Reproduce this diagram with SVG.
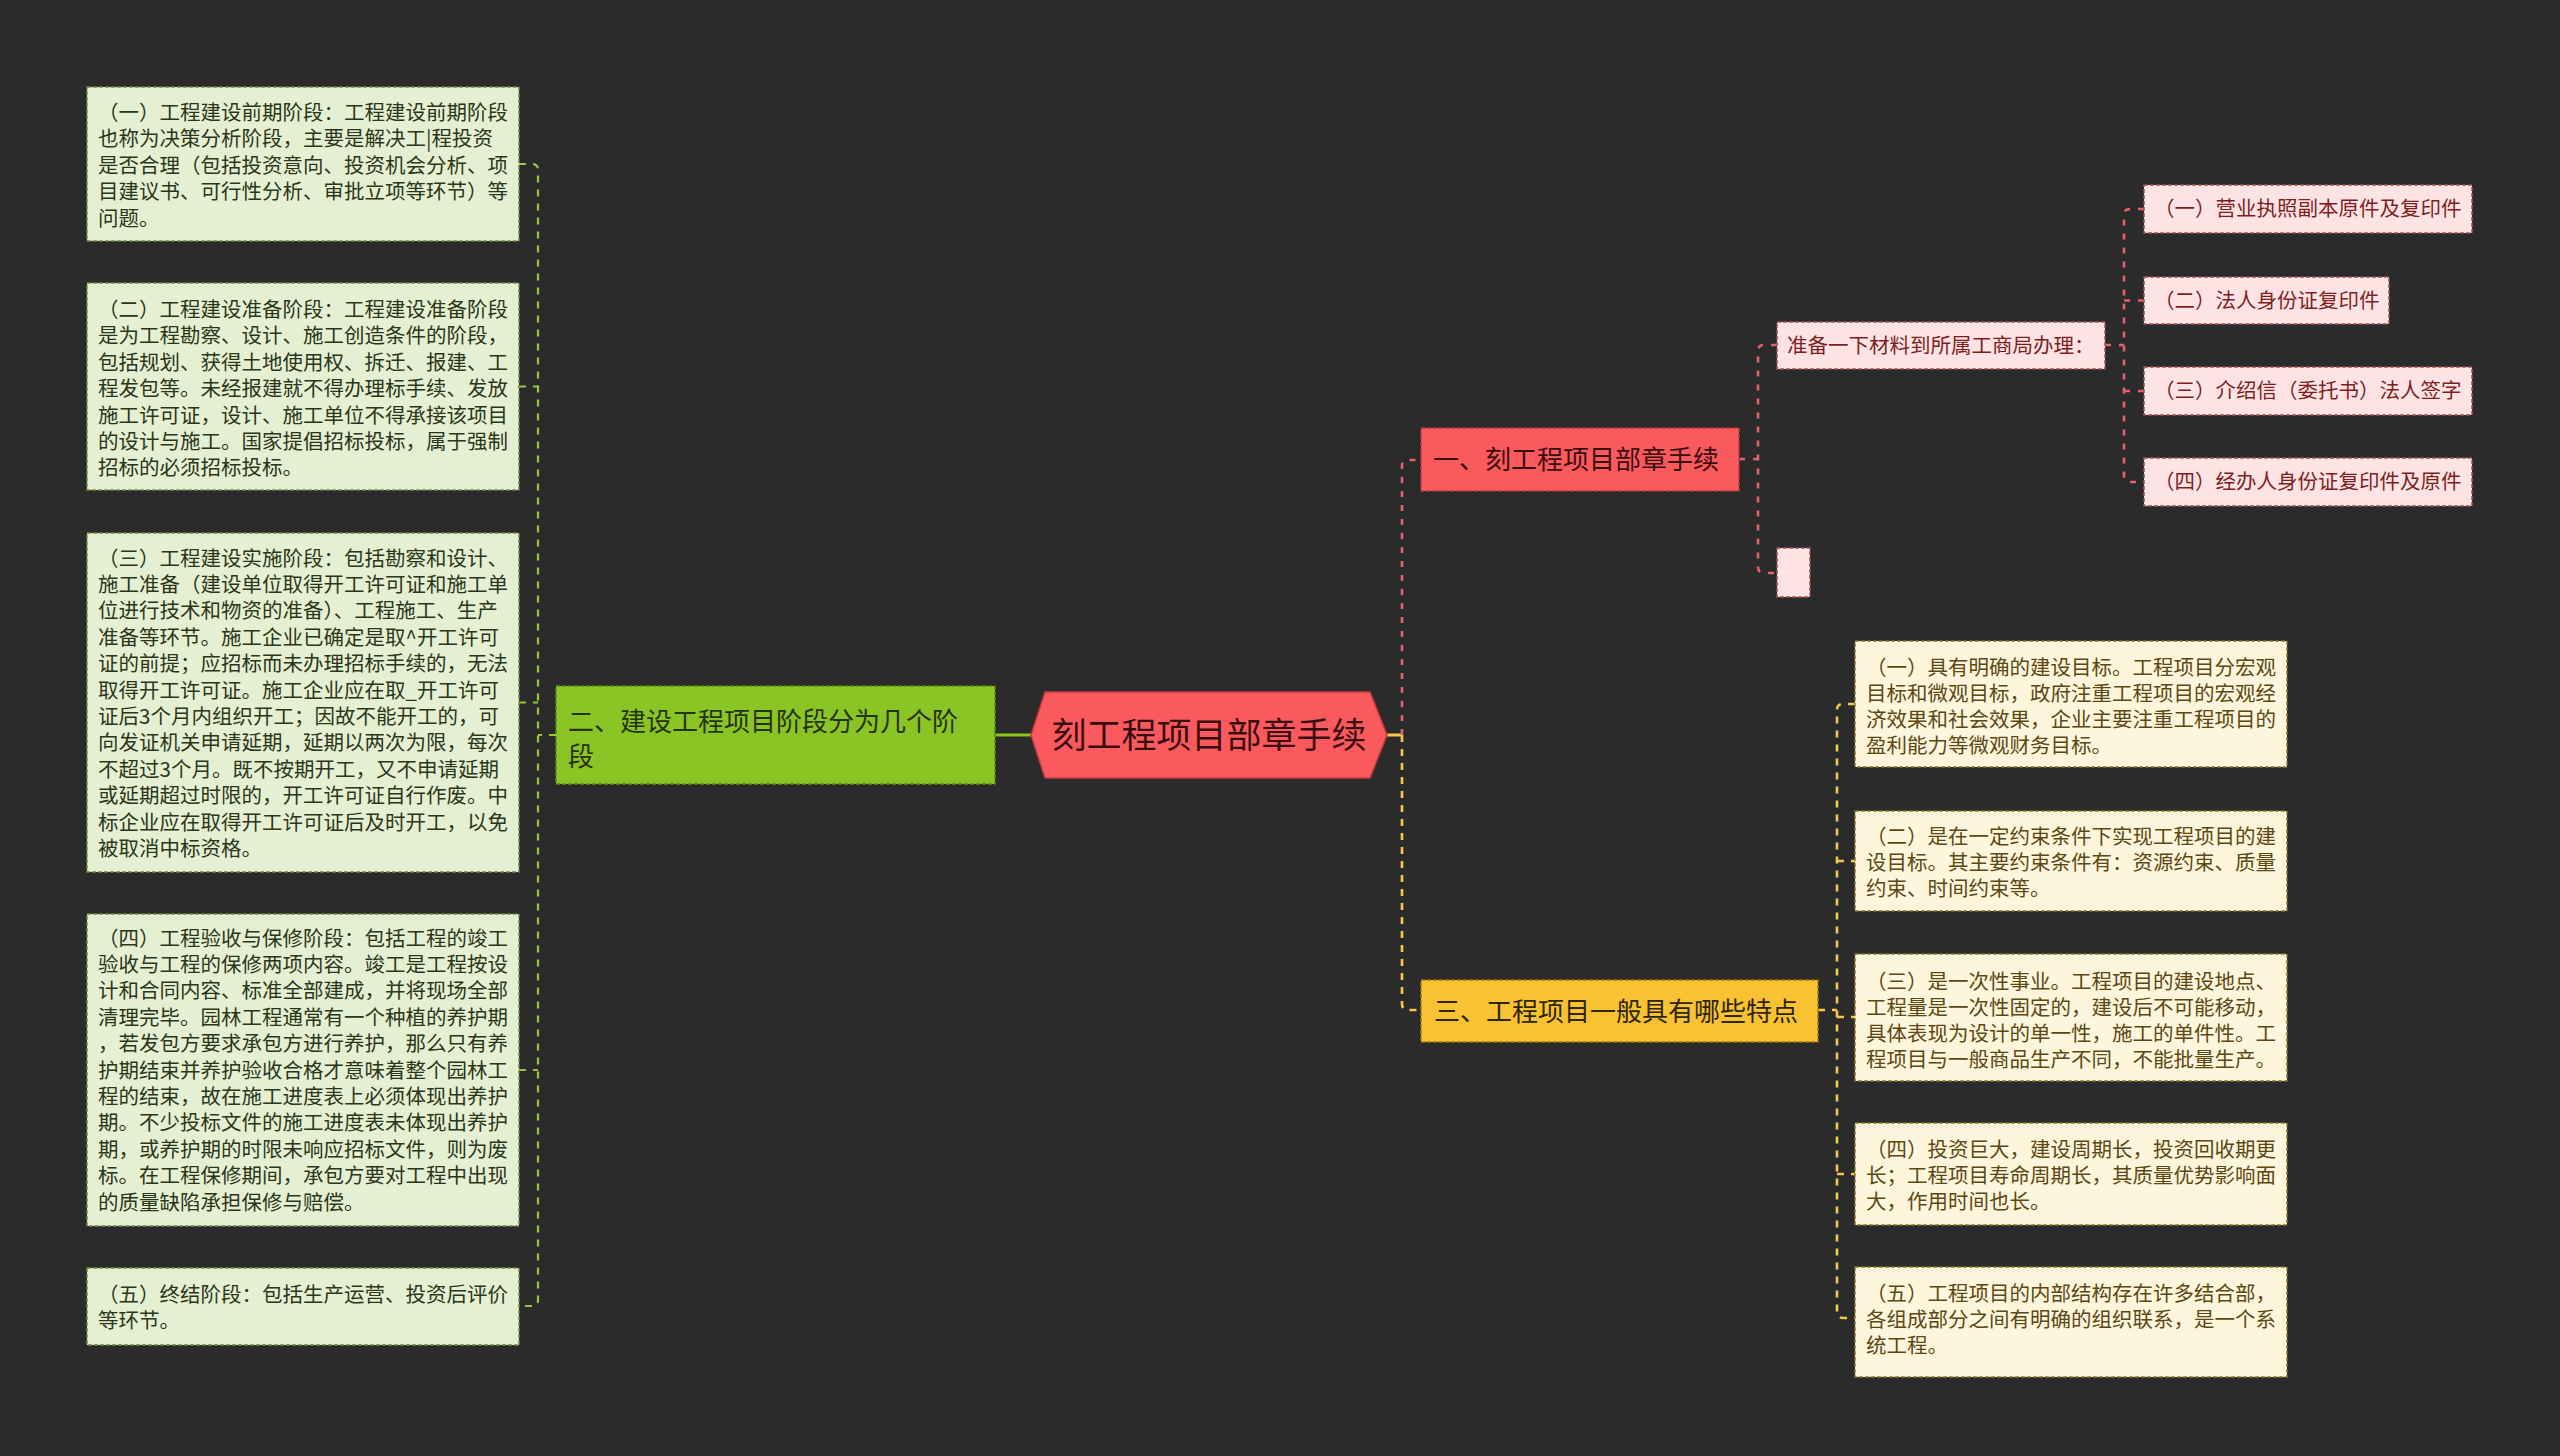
<svg xmlns="http://www.w3.org/2000/svg" width="2560" height="1456" viewBox="0 0 2560 1456">
<style>
text{font-family:"Noto Sans CJK SC","Liberation Sans",sans-serif;}
.t20{font-size:20.5px;}
.t26{font-size:26px;}
.lb rect{fill:#e5f0d2;stroke:#6f8a45;stroke-width:1.5;stroke-dasharray:4 2;}
.lb text{fill:#2b3619;}
.yb rect{fill:#fdf5dc;stroke:#8a7430;stroke-width:1.5;stroke-dasharray:4 2;}
.yb text{fill:#5c4813;}
.rb rect{fill:#fde3e3;stroke:#a05050;stroke-width:1.5;stroke-dasharray:4 2;}
.rb text{fill:#7d1f1f;}
.cg{fill:none;stroke:#98c83a;stroke-width:2.2;stroke-dasharray:7 7;}
.cr{fill:none;stroke:#e0646a;stroke-width:2.6;stroke-dasharray:6 8;}
.cy{fill:none;stroke:#f5c84a;stroke-width:2.6;stroke-dasharray:7 7;}
</style>
<rect x="0" y="0" width="2560" height="1456" fill="#2b2b2b"/>

<g id="connectors">
  <!-- left branch -->
  <path class="cg" d="M556 735 H538"/>
  <path class="cg" d="M519 164 H532 Q538 164 538 170 V1300 Q538 1306 532 1306 H519"/>
  <path class="cg" d="M519 386.5 H538"/>
  <path class="cg" d="M519 702.5 H538"/>
  <path class="cg" d="M519 1070 H538"/>
  <path d="M995 735 H1031" stroke="#8dc31f" stroke-width="3" fill="none"/>
  <!-- right main -->
  <path d="M1387 735 H1402" stroke="#f5c84a" stroke-width="3" fill="none"/>
  <path class="cr" d="M1402 735 V466 Q1402 460 1408 460 H1421"/>
  <path class="cy" d="M1402 735 V1004 Q1402 1010 1408 1010 H1421"/>
  <!-- red sub -->
  <path class="cr" d="M1739 459 H1758"/>
  <path class="cr" d="M1777 345 H1764 Q1758 345 1758 351 V567 Q1758 573 1764 573 H1777"/>
  <path class="cr" d="M2105 345 H2124"/>
  <path class="cr" d="M2144 209 H2130 Q2124 209 2124 215 V476 Q2124 482 2130 482 H2144"/>
  <path class="cr" d="M2124 300.5 H2144"/>
  <path class="cr" d="M2124 391 H2144"/>
  <!-- yellow sub -->
  <path class="cy" d="M1818 1010 H1837"/>
  <path class="cy" d="M1855 704 H1843 Q1837 704 1837 710 V1312 Q1837 1318 1843 1318 H1855"/>
  <path class="cy" d="M1837 861 H1855"/>
  <path class="cy" d="M1837 1017 H1855"/>
  <path class="cy" d="M1837 1174 H1855"/>
</g>

<g id="center">
  <polygon points="1031,735 1045,692 1370,692 1387,735 1370,778 1045,778" fill="#fa5a5d" stroke="#c8383d" stroke-width="1.5"/>
  <text x="1209" y="748" font-size="35" text-anchor="middle" fill="#3a0e10">刻工程项目部章手续</text>
</g>

<g id="branch2">
  <rect x="556" y="686" width="439" height="98" fill="#8ac425" stroke="#5d8a12" stroke-width="1.5" stroke-dasharray="4 2"/>
  <text class="t26" fill="#253310" x="568"><tspan x="568" y="731">二、建设工程项目阶段分为几个阶</tspan><tspan x="568" y="766">段</tspan></text>
</g>

<g id="s1" class="lb">
  <rect x="87" y="87" width="432" height="154"/>
  <text class="t20"><tspan x="98" y="120">（一）工程建设前期阶段：工程建设前期阶段</tspan><tspan x="98" y="146.4">也称为决策分析阶段，主要是解决工|程投资</tspan><tspan x="98" y="172.8">是否合理（包括投资意向、投资机会分析、项</tspan><tspan x="98" y="199.2">目建议书、可行性分析、审批立项等环节）等</tspan><tspan x="98" y="225.6">问题。</tspan></text>
</g>
<g id="s2" class="lb">
  <rect x="87" y="283" width="432" height="207"/>
  <text class="t20"><tspan x="98" y="317">（二）工程建设准备阶段：工程建设准备阶段</tspan><tspan x="98" y="343.4">是为工程勘察、设计、施工创造条件的阶段，</tspan><tspan x="98" y="369.8">包括规划、获得土地使用权、拆迁、报建、工</tspan><tspan x="98" y="396.2">程发包等。未经报建就不得办理标手续、发放</tspan><tspan x="98" y="422.6">施工许可证，设计、施工单位不得承接该项目</tspan><tspan x="98" y="449">的设计与施工。国家提倡招标投标，属于强制</tspan><tspan x="98" y="475.4">招标的必须招标投标。</tspan></text>
</g>
<g id="s3" class="lb">
  <rect x="87" y="533" width="432" height="339"/>
  <text class="t20"><tspan x="98" y="565.5">（三）工程建设实施阶段：包括勘察和设计、</tspan><tspan x="98" y="591.9">施工准备（建设单位取得开工许可证和施工单</tspan><tspan x="98" y="618.3">位进行技术和物资的准备）、工程施工、生产</tspan><tspan x="98" y="644.7">准备等环节。施工企业已确定是取^开工许可</tspan><tspan x="98" y="671.1">证的前提；应招标而未办理招标手续的，无法</tspan><tspan x="98" y="697.5">取得开工许可证。施工企业应在取_开工许可</tspan><tspan x="98" y="723.9">证后3个月内组织开工；因故不能开工的，可</tspan><tspan x="98" y="750.3">向发证机关申请延期，延期以两次为限，每次</tspan><tspan x="98" y="776.7">不超过3个月。既不按期开工，又不申请延期</tspan><tspan x="98" y="803.1">或延期超过时限的，开工许可证自行作废。中</tspan><tspan x="98" y="829.5">标企业应在取得开工许可证后及时开工，以免</tspan><tspan x="98" y="855.9">被取消中标资格。</tspan></text>
</g>
<g id="s4" class="lb">
  <rect x="87" y="914" width="432" height="312"/>
  <text class="t20"><tspan x="98" y="945.5">（四）工程验收与保修阶段：包括工程的竣工</tspan><tspan x="98" y="971.9">验收与工程的保修两项内容。竣工是工程按设</tspan><tspan x="98" y="998.3">计和合同内容、标准全部建成，并将现场全部</tspan><tspan x="98" y="1024.7">清理完毕。园林工程通常有一个种植的养护期</tspan><tspan x="98" y="1051.1">，若发包方要求承包方进行养护，那么只有养</tspan><tspan x="98" y="1077.5">护期结束并养护验收合格才意味着整个园林工</tspan><tspan x="98" y="1103.9">程的结束，故在施工进度表上必须体现出养护</tspan><tspan x="98" y="1130.3">期。不少投标文件的施工进度表未体现出养护</tspan><tspan x="98" y="1156.7">期，或养护期的时限未响应招标文件，则为废</tspan><tspan x="98" y="1183.1">标。在工程保修期间，承包方要对工程中出现</tspan><tspan x="98" y="1209.5">的质量缺陷承担保修与赔偿。</tspan></text>
</g>
<g id="s5" class="lb">
  <rect x="87" y="1268" width="432" height="77"/>
  <text class="t20"><tspan x="98" y="1302">（五）终结阶段：包括生产运营、投资后评价</tspan><tspan x="98" y="1328.4">等环节。</tspan></text>
</g>

<g id="branch1">
  <rect x="1421" y="428" width="318" height="63" fill="#fa5a5d" stroke="#b83a3e" stroke-width="1.5" stroke-dasharray="4 2"/>
  <text class="t26" x="1433" y="469" fill="#3a0e10">一、刻工程项目部章手续</text>
</g>
<g id="r0" class="rb">
  <rect x="1777" y="322" width="328" height="47"/>
  <text class="t20" x="1787" y="352.5">准备一下材料到所属工商局办理：</text>
</g>
<g id="r5" class="rb">
  <rect x="1777" y="548" width="33" height="49"/>
</g>
<g id="r1" class="rb">
  <rect x="2144" y="185" width="328" height="48"/>
  <text class="t20" x="2154" y="216">（一）营业执照副本原件及复印件</text>
</g>
<g id="r2" class="rb">
  <rect x="2144" y="277" width="245" height="47"/>
  <text class="t20" x="2154" y="307.5">（二）法人身份证复印件</text>
</g>
<g id="r3" class="rb">
  <rect x="2144" y="367" width="328" height="48"/>
  <text class="t20" x="2154" y="398">（三）介绍信（委托书）法人签字</text>
</g>
<g id="r4" class="rb">
  <rect x="2144" y="458" width="328" height="48"/>
  <text class="t20" x="2154" y="489">（四）经办人身份证复印件及原件</text>
</g>

<g id="branch3">
  <rect x="1421" y="980" width="397" height="62" fill="#f8c232" stroke="#9a7a10" stroke-width="1.5" stroke-dasharray="4 2"/>
  <text class="t26" x="1434" y="1021" fill="#2e2608">三、工程项目一般具有哪些特点</text>
</g>
<g id="y1" class="yb">
  <rect x="1855" y="641" width="432" height="126"/>
  <text class="t20"><tspan x="1866" y="674.5">（一）具有明确的建设目标。工程项目分宏观</tspan><tspan x="1866" y="700.5">目标和微观目标，政府注重工程项目的宏观经</tspan><tspan x="1866" y="726.5">济效果和社会效果，企业主要注重工程项目的</tspan><tspan x="1866" y="752.5">盈利能力等微观财务目标。</tspan></text>
</g>
<g id="y2" class="yb">
  <rect x="1855" y="811" width="432" height="100"/>
  <text class="t20"><tspan x="1866" y="843.5">（二）是在一定约束条件下实现工程项目的建</tspan><tspan x="1866" y="869.5">设目标。其主要约束条件有：资源约束、质量</tspan><tspan x="1866" y="895.5">约束、时间约束等。</tspan></text>
</g>
<g id="y3" class="yb">
  <rect x="1855" y="954" width="432" height="127"/>
  <text class="t20"><tspan x="1866" y="988.5">（三）是一次性事业。工程项目的建设地点、</tspan><tspan x="1866" y="1014.5">工程量是一次性固定的，建设后不可能移动，</tspan><tspan x="1866" y="1040.5">具体表现为设计的单一性，施工的单件性。工</tspan><tspan x="1866" y="1066.5">程项目与一般商品生产不同，不能批量生产。</tspan></text>
</g>
<g id="y4" class="yb">
  <rect x="1855" y="1123" width="432" height="102"/>
  <text class="t20"><tspan x="1866" y="1156.5">（四）投资巨大，建设周期长，投资回收期更</tspan><tspan x="1866" y="1182.5">长；工程项目寿命周期长，其质量优势影响面</tspan><tspan x="1866" y="1208.5">大，作用时间也长。</tspan></text>
</g>
<g id="y5" class="yb">
  <rect x="1855" y="1267" width="432" height="110"/>
  <text class="t20"><tspan x="1866" y="1300.5">（五）工程项目的内部结构存在许多结合部，</tspan><tspan x="1866" y="1326.5">各组成部分之间有明确的组织联系，是一个系</tspan><tspan x="1866" y="1352.5">统工程。</tspan></text>
</g>
</svg>
